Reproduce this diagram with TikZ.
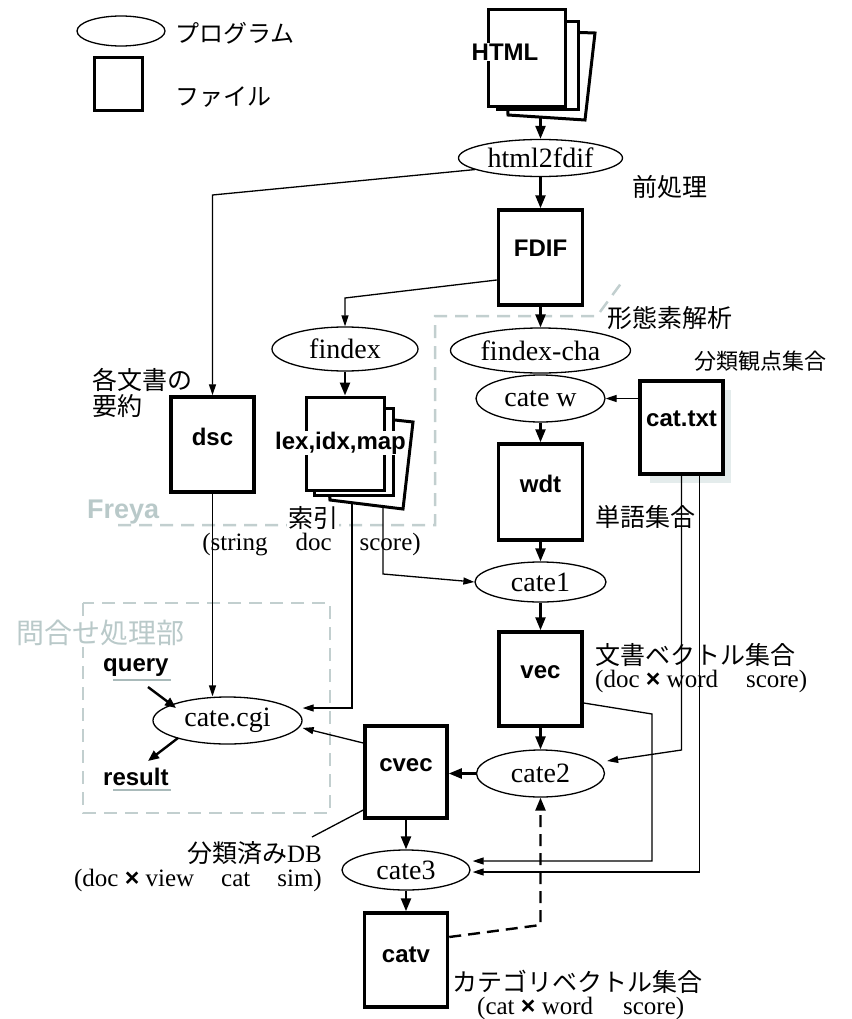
\documentclass[tikz,border=0pt]{standalone}
\usepackage{fontspec}
\setmainfont{Liberation Serif}
\newfontfamily\jp{Noto Sans CJK JP}
\newfontfamily\hv{Liberation Sans}
\usetikzlibrary{shapes.geometric,arrows.meta}
\definecolor{dashgray}{HTML}{C2CFCF}
\definecolor{labgray}{HTML}{B9C9C9}
\definecolor{shadowgray}{HTML}{E4ECEC}
\definecolor{ulgray}{HTML}{A9BABA}
\begin{document}
\begin{tikzpicture}[x=1pt,y=-1pt,
 prog/.style={ellipse,draw,line width=1.3pt,fill=white,inner sep=0pt,font=\fontsize{28}{30}\selectfont},
 filebox/.style={draw,line width=3.5pt,fill=white,inner sep=0pt},
 page/.style={draw,line width=3pt,fill=white,line join=miter},
 ftext/.style={font=\hv\bfseries\fontsize{24}{26}\selectfont,inner sep=1pt},
 jlab/.style={font=\jp\fontsize{25}{28}\selectfont,inner sep=0pt},
 slab/.style={font=\fontsize{25}{28}\selectfont,inner sep=0pt},
 thk/.style={line width=2.4pt,-{Triangle[length=13pt,width=10pt]}},
 thn/.style={line width=1.3pt,-{Triangle[length=11pt,width=7pt]}},
 gdash/.style={dashgray,line width=2.5pt,dash pattern=on 13pt off 8pt},
]
\useasboundingbox (0,0) rectangle (851,1019);
\newcommand{\bx}{{\hv\bfseries\char"00D7}}
% legend
\node[prog, minimum width=88pt, minimum height=30pt] (legprog) at (121,31) {};
\node[jlab, font=\jp\fontsize{24}{26}\selectfont, anchor=west] (legprogt) at (175,33) {プログラム};
\node[filebox, minimum width=48pt, minimum height=53pt] (legfile) at (118.5,84) {};
\node[jlab, font=\jp\fontsize{24}{26}\selectfont, anchor=west] (legfilet) at (175,97) {ファイル};

% grey dashed regions
\draw[gdash] (118,525) -- (435,525) -- (435,316) -- (597,316) -- (622,282);
\draw[gdash] (83,603) rectangle (330,813);
\node[font=\hv\bfseries\fontsize{27}{29}\selectfont, text=labgray, anchor=west, inner sep=0pt] (freya) at (87,512) {Freya};
\node[jlab, font=\jp\fontsize{28}{30}\selectfont, text=labgray, fill=white, anchor=west, inner sep=1pt] (qlab) at (15,633) {問合せ処理部};

% HTML pages
\draw[page] (506,30) -- (595,33) -- (585,120) -- (508,115) -- cycle;
\draw[page] (497,22) rectangle (578,110);
\node[filebox, line width=3pt, minimum width=77pt, minimum height=97pt] (html) at (526.5,58.5) {};
\node[ftext, fill=white] (htmlt) at (505,52) {HTML};
\coordinate (htmlbot) at (540.5,117);

% programs, main column
\node[prog, minimum width=164pt, minimum height=37pt] (h2f) at (540.5,158) {html2fdif};
\node[jlab, anchor=west] (pre) at (632,187) {前処理};
\node[filebox, minimum width=84pt, minimum height=95pt] (fdif) at (540.5,257.5) {};
\node[ftext] (fdift) at (540.5,248) {FDIF};
\node[jlab, anchor=west] (morph) at (607,318) {形態素解析};
\node[prog, minimum width=180pt, minimum height=45pt] (fcha) at (540.5,350.5) {findex-cha};
\node[prog, minimum width=129pt, minimum height=47pt] (catew) at (540.5,398.5) {cate w};
\fill[shadowgray] (650,390) rectangle (731,483);
\node[filebox, minimum width=83pt, minimum height=93pt] (cattxt) at (681.5,427.5) {};
\node[ftext] (cattxtt) at (681.5,419) {cat.txt};
\node[jlab, font=\jp\fontsize{22}{24}\selectfont, anchor=west] (viewset) at (694,361) {分類観点集合};
\node[filebox, minimum width=84pt, minimum height=96pt] (wdt) at (540.5,492) {};
\node[ftext] (wdtt) at (540.5,484) {wdt};
\node[jlab, anchor=west] (wordset) at (595,517) {単語集合};
\node[prog, minimum width=131pt, minimum height=40pt] (cate1) at (540.5,582) {cate1};
\node[filebox, minimum width=83pt, minimum height=94pt] (vec) at (540.5,679) {};
\node[ftext] (vect) at (540.5,672) {vec};
\node[jlab, anchor=west] (docvec) at (595,655) {文書ベクトル集合};
\node[slab, anchor=west] (docvec2) at (595,681) {(doc \bx\ word\hspace{28pt}score)};
\node[prog, minimum width=128pt, minimum height=47pt] (cate2) at (540.5,773.5) {cate2};

% left column
\node[prog, minimum width=146pt, minimum height=44pt] (findex) at (345,349) {findex};
\draw[page] (322,412) -- (413,422) -- (403,509) -- (330,500) -- cycle;
\draw[page] (314,408) rectangle (393,495);
\node[filebox, line width=3pt, minimum width=78pt, minimum height=93pt] (lex) at (345,443.5) {};
\node[ftext, fill=white] (lext) at (340.5,443) {lex,idx,map};
\node[jlab, fill=white, anchor=west, inner sep=1pt] (idxlab) at (287,518) {索引};
\node[slab] (idxlab2) at (311.5,545) {(string\hspace{28pt}doc\hspace{28pt}score)};
\node[filebox, minimum width=83pt, minimum height=95pt] (dsc) at (212.5,444.5) {};
\node[ftext] (dsct) at (212.5,437) {dsc};
\node[jlab, anchor=west] (sum1) at (92,380) {各文書の};
\node[jlab, anchor=west] (sum2) at (92,406) {要約};

% query part
\node[prog, minimum width=149pt, minimum height=47pt] (cgi) at (227.5,720.5) {cate.cgi};
\node[ftext, anchor=west, inner sep=0pt] (query) at (103,668) {query};
\draw[ulgray, line width=2.5pt] (113,680) -- (171,680);
\node[ftext, anchor=west, inner sep=0pt] (result) at (103,777) {result};
\draw[ulgray, line width=2.5pt] (113,790) -- (171,790);
\coordinate (qs) at (148,687);
\coordinate (rs) at (148,761);

% lower column
\node[filebox, minimum width=82pt, minimum height=92pt] (cvec) at (406,772) {};
\node[ftext] (cvect) at (406,765) {cvec};
\node[jlab, anchor=east] (dblab) at (322,853) {分類済み\rmfamily DB};
\node[slab, anchor=east] (dblab2) at (322,880) {(doc \bx\ view\hspace{27pt}cat\hspace{27pt}sim)};
\coordinate (dbpt) at (312,837);
\node[prog, minimum width=128pt, minimum height=40pt] (cate3) at (406,870) {cate3};
\node[filebox, minimum width=83pt, minimum height=94pt] (catv) at (406,960) {};
\node[ftext] (catvt) at (406,955) {catv};
\node[jlab, anchor=west] (catvec) at (452,982) {カテゴリベクトル集合};
\node[slab, anchor=west] (catvec2) at (477,1008) {(cat \bx\ word\hspace{30pt}score)};

% connectors
\draw[thk] (htmlbot) -- (h2f.north);
\draw[thk] (h2f.south) -- (fdif.north);
\draw[thn] (h2f.190) -- (212.5,195) -- (dsc.north);
\draw[thn] ([yshift=-22.5pt]fdif.west) -- (345,298) -- (findex.north);
\draw[thk] (fdif.south) -- (fcha.north);
\draw[thk] (findex.south) -- (lex.north);
\draw[thk] (catew.south) -- (wdt.north);
\draw[thn] (cattxt.west |- catew) -- (catew.east);
\draw[thk] (wdt.south) -- (cate1.north);
\draw[thk] (cate1.south) -- (vec.north);
\draw[thk] (vec.south) -- (cate2.north);
\draw[thk] (cate2.west) -- (cate2.west -| cvec.east);
\draw[thk] (cvec.south) -- (cate3.north);
\draw[thk] (cate3.south) -- (catv.north);
\draw[line width=2.4pt, dash pattern=on 12pt off 7pt, -{Triangle[length=13pt,width=10pt]}]
  ([yshift=23pt]catv.east) -- (540.5,925) -- (cate2.south);
\draw[thn] (dsc.south) -- (dsc.south |- cgi.north);
\draw[thn] (352,503) -- (352,708) -- ([yshift=12.5pt]cgi.east);
\draw[thn] ([yshift=29pt]cvec.west) -- ([yshift=-7.5pt]cgi.east);
\draw[line width=1.3pt] ([yshift=-38pt]cvec.west) -- (dbpt);
\draw[thn] (383,506) -- (383,574) -- (cate1.west);
\draw[thn] (cattxt.south) -- (681.5,750) -- ([yshift=12.5pt,xshift=2pt]cate2.east);
\draw[thn] ([xshift=18pt]cattxt.south) -- (699.5,872) -- ([yshift=-2pt,xshift=2pt]cate3.east);
\draw[thn] ([yshift=-24pt]vec.east) -- (652,714) -- (652,861) -- ([yshift=9pt,xshift=2pt]cate3.east);
\draw[line width=2.4pt,-{Triangle[length=11pt,width=9pt]}] (qs) -- (176,708);
\draw[line width=2.4pt,-{Triangle[length=11pt,width=9pt]}] (178,738) -- (rs);
\end{tikzpicture}
\end{document}
